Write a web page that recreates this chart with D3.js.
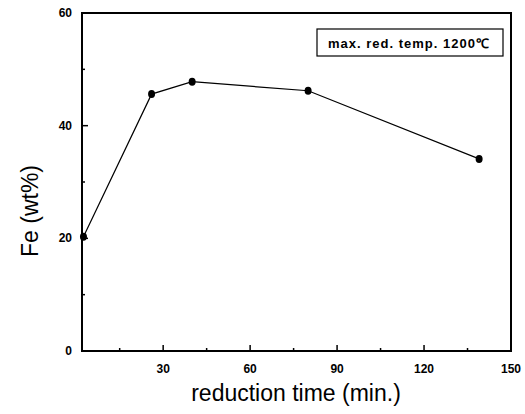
<!DOCTYPE html>
<html>
<head>
<meta charset="utf-8">
<script src="https://cdn.jsdelivr.net/npm/d3@7"></script>
<style>
	body { margin: 0; background: #fff; }
	svg { display: block; font-family: "Liberation Sans", Arial, sans-serif; }
	.tick-label { font-weight: bold; font-size: 12px; }
</style>
</head>
<body>
<svg id="chart" width="525" height="414"></svg>
<script>
// reduction time (min.) and Fe content (wt%)
var times = [2.5, 26, 40, 80, 139];
var feValues = [20.3, 45.6, 47.8, 46.2, 34.1];
var xTicks = [30, 60, 90, 120, 150];
var xMinorTicks = [15, 45, 75, 105, 135];
var yTicks = [0, 20, 40, 60];
var yMinorTicks = [10, 30, 50];
var legendText = 'max. red. temp. 1200\u2103';

var svg = d3.select('#chart');
var plotL = 82, plotR = 511, plotT = 13, plotB = 351;

var x = d3.scaleLinear().domain([2, 150]).range([plotL, plotR]);
var y = d3.scaleLinear().domain([0, 60]).range([plotB, plotT]);

// frame
svg.append('rect')
	.attr('x', plotL).attr('y', plotT)
	.attr('width', plotR - plotL).attr('height', plotB - plotT)
	.attr('fill', 'none').attr('stroke', '#000').attr('stroke-width', 2);

// x ticks (inward)
svg.selectAll('.xt').data(xTicks.filter(d => d < 150)).enter()
	.append('line')
	.attr('x1', d => x(d)).attr('x2', d => x(d))
	.attr('y1', plotB).attr('y2', plotB - 6)
	.attr('stroke', '#000').attr('stroke-width', 1.5);
svg.selectAll('.xm').data(xMinorTicks).enter()
	.append('line')
	.attr('x1', d => x(d)).attr('x2', d => x(d))
	.attr('y1', plotB).attr('y2', plotB - 3)
	.attr('stroke', '#000').attr('stroke-width', 1.5);
svg.selectAll('.xl').data(xTicks).enter()
	.append('text')
	.attr('class', 'tick-label')
	.attr('x', d => x(d)).attr('y', plotB + 22)
	.attr('text-anchor', 'middle')
	.text(d => d);

// y ticks (inward)
svg.selectAll('.yt').data(yTicks.filter(d => d > 0 && d < 60)).enter()
	.append('line')
	.attr('x1', plotL).attr('x2', plotL + 6)
	.attr('y1', d => y(d)).attr('y2', d => y(d))
	.attr('stroke', '#000').attr('stroke-width', 1.5);
svg.selectAll('.ym').data(yMinorTicks).enter()
	.append('line')
	.attr('x1', plotL).attr('x2', plotL + 3)
	.attr('y1', d => y(d)).attr('y2', d => y(d))
	.attr('stroke', '#000').attr('stroke-width', 1.5);
svg.selectAll('.yl').data(yTicks).enter()
	.append('text')
	.attr('class', 'tick-label')
	.attr('x', plotL - 10).attr('y', d => y(d) + 4)
	.attr('text-anchor', 'end')
	.text(d => d);

// axis titles
svg.append('text')
	.attr('x', 296).attr('y', 401)
	.attr('text-anchor', 'middle')
	.attr('font-size', 23)
	.text('reduction time (min.)');
svg.append('text')
	.attr('transform', 'translate(38,' + 211 + ') rotate(-90)')
	.attr('text-anchor', 'middle')
	.attr('font-size', 23)
	.text('Fe (wt%)');

// data line + markers
var pts = times.map((t, i) => [t, feValues[i]]);
svg.append('path')
	.datum(pts)
	.attr('fill', 'none').attr('stroke', '#000').attr('stroke-width', 1.2)
	.attr('d', d3.line().x(d => x(d[0])).y(d => y(d[1])));
svg.selectAll('.pt').data(pts).enter()
	.append('ellipse')
	.attr('cx', d => x(d[0])).attr('cy', d => y(d[1]))
	.attr('rx', 3.5).attr('ry', 4)
	.attr('fill', '#000');

// legend box
svg.append('rect')
	.attr('x', 317).attr('y', 29)
	.attr('width', 186).attr('height', 27)
	.attr('fill', '#fff').attr('stroke', '#000').attr('stroke-width', 1.2);
svg.append('text')
	.attr('x', 409).attr('y', 47.5)
	.attr('text-anchor', 'middle')
	.attr('font-size', 13).attr('font-weight', 'bold')
	.attr('letter-spacing', 1)
	.text(legendText);
</script>
</body>
</html>
